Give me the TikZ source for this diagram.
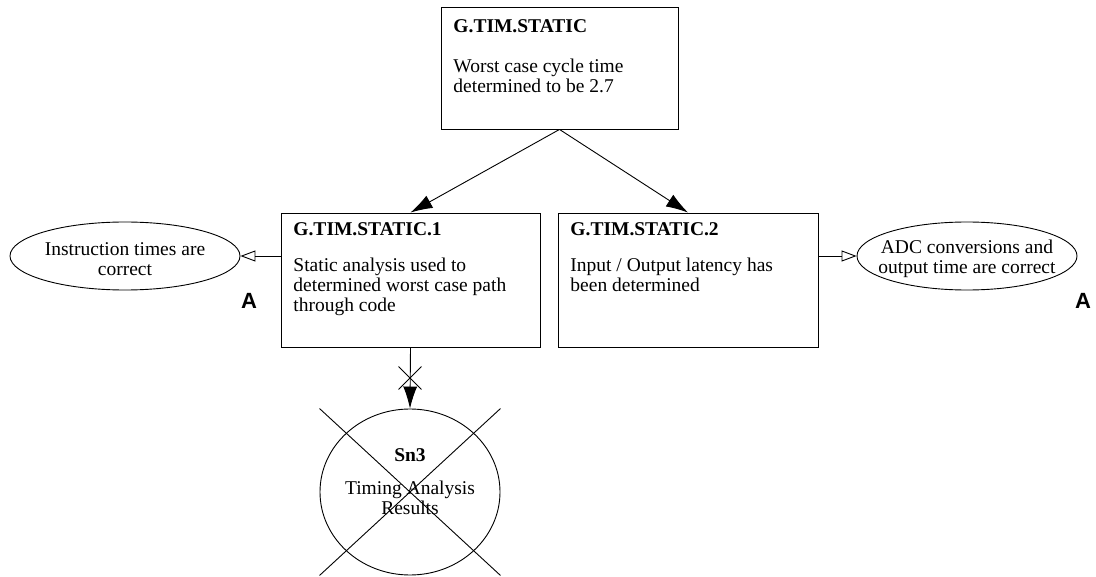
\documentclass[tikz,border=0pt]{standalone}
\usepackage{fontspec}
\setmainfont{Liberation Serif}
\newfontfamily\labelsans{Liberation Sans}
\usetikzlibrary{arrows.meta,shapes.geometric,shapes.misc}
\begin{document}
\begin{tikzpicture}[x=1pt,y=-1pt,line width=0.9pt,
  goalbox/.style={draw,rectangle,inner sep=0pt},
  solution/.style={draw,ellipse,inner sep=0pt},
  % multi-line text: the base anchor sits on the last line
  txt/.style={inner sep=0pt,anchor=base west,align=left,font=\fontsize{19.5}{20}\selectfont},
  ctxt/.style={inner sep=0pt,align=center,font=\fontsize{19.5}{20}\selectfont},
  ttl/.style={inner sep=0pt,anchor=base west,font=\fontsize{19.5}{20}\selectfont\bfseries},
  marker/.style={inner sep=0pt,font=\fontsize{22}{22}\selectfont\labelsans\bfseries},
  support/.style={-{Latex[length=22pt,width=14pt]}},
  context/.style={-{Triangle[open,length=15pt,width=11pt]}}]
\useasboundingbox (0,0) rectangle (1096,577);

% goals
\node[goalbox,minimum width=237pt,minimum height=122pt] (g) at (559.5,68) {};
\node[ttl] (gt) at (453,33) {G.TIM.STATIC};
\node[txt] (gb) at (453,93) {Worst case cycle time\\determined to be 2.7};

\node[goalbox,minimum width=259pt,minimum height=134pt] (g1) at (410.5,280) {};
\node[ttl] (g1t) at (293,236) {G.TIM.STATIC.1};
\node[txt] (g1b) at (293,312) {Static analysis used to\\determined worst case path\\through code};

\node[goalbox,minimum width=260pt,minimum height=134pt] (g2) at (688,280) {};
\node[ttl] (g2t) at (570,236) {G.TIM.STATIC.2};
\node[txt] (g2b) at (570,292) {Input / Output latency has\\been determined};

% assumptions
\node[solution,minimum width=230pt,minimum height=68pt] (a1) at (125,256) {};
\node[ctxt] (a1t) at (125,259) {Instruction times are\\correct};
\node[marker] (a1m) at (249,301) {A};

\node[solution,minimum width=220pt,minimum height=68pt] (a2) at (967,256) {};
\node[ctxt] (a2t) at (967,259) {ADC conversions and\\output time are correct};
\node[marker] (a2m) at (1083,301) {A};

% solution (crossed out)
\node[solution,minimum width=180pt,minimum height=166pt] (sn) at (410,492) {};
\node[inner sep=0pt,font=\fontsize{19.5}{20}\selectfont\bfseries] (snt) at (410,455) {Sn3};
\node[ctxt] (snb) at (410,498) {Timing Analysis\\Results};
\draw (sn.north -| sn.west) -- (sn.south -| sn.east);
\draw (sn.north -| sn.east) -- (sn.south -| sn.west);

% connectors
\draw[support] (g.south) -- (g1.north);
\draw[support] (g.south) -- (g2.north);
\draw[context] (a1.east -| g1.west) -- (a1.east);
\draw[context] (a2.west -| g2.east) -- (a2.west);
\draw[support] (g1.south) -- (sn.north);
\node[draw,cross out,minimum size=22pt,inner sep=0pt] (xm) at (410,378) {};
\end{tikzpicture}
\end{document}
